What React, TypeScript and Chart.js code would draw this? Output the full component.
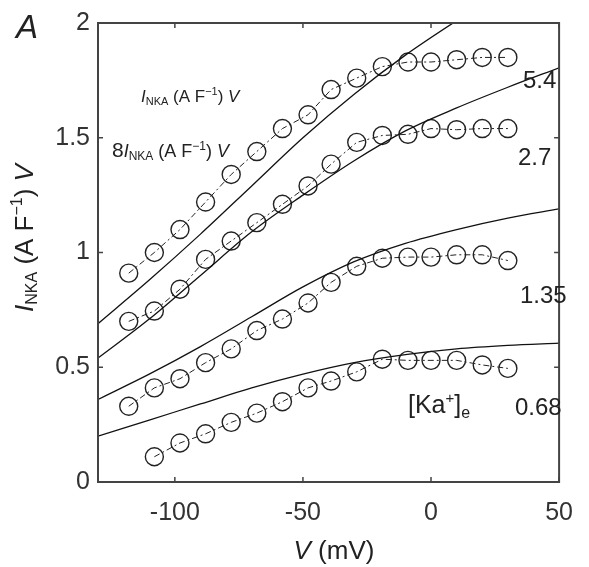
import React, { useEffect, useRef } from 'react';
import { Chart, registerables } from 'chart.js';

Chart.register(...registerables);

// Measured membrane potentials (mV)
const voltages = [-118, -108, -98, -88, -78, -68, -58, -48, -39, -29, -19, -9, 0, 10, 20, 30];
const voltagesLow = [-108, -98, -88, -78, -68, -58, -48, -39, -29, -19, -9, 0, 10, 20, 30];

// Measured I_NKA (A/F) for each [K+]e
const ik54 = [0.91, 1.0, 1.1, 1.22, 1.34, 1.44, 1.54, 1.6, 1.71, 1.76, 1.81, 1.83, 1.83, 1.84, 1.85, 1.85];
const ik27 = [0.7, 0.745, 0.84, 0.97, 1.05, 1.13, 1.21, 1.29, 1.385, 1.48, 1.51, 1.515, 1.54, 1.535, 1.54, 1.54];
const ik135 = [0.33, 0.41, 0.45, 0.52, 0.58, 0.66, 0.71, 0.78, 0.87, 0.94, 0.975, 0.98, 0.98, 0.99, 0.99, 0.965];
const ik068 = [0.11, 0.17, 0.21, 0.26, 0.3, 0.35, 0.41, 0.44, 0.48, 0.535, 0.53, 0.53, 0.53, 0.51, 0.495];

// Model curves
const fitV = [-130, -110, -90, -70, -50, -30, -10, 10, 30, 50];
const fit54 = [0.69, 0.88, 1.08, 1.29, 1.5, 1.69, 1.86, 2.01, 2.15, 2.28];
const fit27 = [0.54, 0.71, 0.9, 1.09, 1.25, 1.4, 1.53, 1.63, 1.72, 1.805];
const fit135 = [0.36, 0.47, 0.59, 0.72, 0.85, 0.96, 1.04, 1.1, 1.15, 1.19];
const fit068 = [0.2, 0.27, 0.34, 0.41, 0.47, 0.52, 0.555, 0.58, 0.595, 0.605];

const xTicks = [-100, -50, 0, 50];
const yTicks = [0, 0.5, 1, 1.5, 2];

const concLabels = ['5.4', '2.7', '1.35', '0.68'];

const FAM = '"Liberation Sans", Arial, Helvetica, sans-serif';
const INK = '#222';

type Part = { t: string; size: number; italic?: boolean; dy?: number };

function drawRich(ctx: CanvasRenderingContext2D, parts: Part[], x: number, y: number, align: 'left' | 'center' | 'right') {
  const fontOf = (p: Part) => `${p.italic ? 'italic ' : ''}${p.size}px ${FAM}`;
  let total = 0;
  const widths = parts.map((p) => {
    ctx.font = fontOf(p);
    const w = ctx.measureText(p.t).width;
    total += w;
    return w;
  });
  let cx = align === 'left' ? x : align === 'center' ? x - total / 2 : x - total;
  ctx.textAlign = 'left';
  ctx.textBaseline = 'alphabetic';
  parts.forEach((p, i) => {
    ctx.font = fontOf(p);
    ctx.fillText(p.t, cx, y + (p.dy || 0));
    cx += widths[i];
  });
}

const pts = (xs: number[], ys: number[]) => xs.map((x, i) => ({ x, y: ys[i] }));

const decorPlugin = {
  id: 'decor',
  afterDraw(chart: any) {
    const ctx: CanvasRenderingContext2D = chart.ctx;
    const { left, right, top, bottom } = chart.chartArea;
    const xs = chart.scales.x;
    const ys = chart.scales.y;
    ctx.save();
    // box
    ctx.strokeStyle = '#444';
    ctx.lineWidth = 2;
    ctx.strokeRect(left, top, right - left, bottom - top);
    // inward ticks
    ctx.lineWidth = 1.5;
    const tl = 5;
    ctx.beginPath();
    xTicks.forEach((v) => {
      const px = xs.getPixelForValue(v);
      ctx.moveTo(px, bottom);
      ctx.lineTo(px, bottom - tl);
      ctx.moveTo(px, top);
      ctx.lineTo(px, top + tl);
    });
    yTicks.forEach((v) => {
      const py = ys.getPixelForValue(v);
      ctx.moveTo(left, py);
      ctx.lineTo(left + tl, py);
      ctx.moveTo(right, py);
      ctx.lineTo(right - tl, py);
    });
    ctx.stroke();

    ctx.fillStyle = INK;
    // panel letter
    drawRich(ctx, [{ t: 'A', size: 33, italic: true }], 16, 38, 'left');

    // x axis title
    drawRich(ctx, [
      { t: 'V', size: 26, italic: true },
      { t: ' (mV)', size: 26 },
    ], 334, 559, 'center');

    // y axis title (rotated)
    ctx.save();
    ctx.translate(33, 238);
    ctx.rotate(-Math.PI / 2);
    drawRich(ctx, [
      { t: 'I', size: 26, italic: true },
      { t: 'NKA', size: 16, dy: 4 },
      { t: ' (A F', size: 26 },
      { t: '\u22121', size: 16, dy: -11 },
      { t: ') ', size: 26 },
      { t: 'V', size: 26, italic: true },
    ], 0, 0, 'center');
    ctx.restore();

    // inner annotation lines
    drawRich(ctx, [
      { t: 'I', size: 17, italic: true },
      { t: 'NKA', size: 11, dy: 3 },
      { t: ' (A F', size: 17 },
      { t: '\u22121', size: 11, dy: -7 },
      { t: ') ', size: 17 },
      { t: 'V', size: 17, italic: true },
    ], 141, 102, 'left');
    drawRich(ctx, [
      { t: '8', size: 21 },
      { t: 'I', size: 18, italic: true },
      { t: 'NKA', size: 12, dy: 3 },
      { t: ' (A F', size: 18 },
      { t: '\u22121', size: 12, dy: -7 },
      { t: ') ', size: 18 },
      { t: 'V', size: 18, italic: true },
    ], 112, 157, 'left');

    // concentration labels
    drawRich(ctx, [{ t: concLabels[0], size: 24 }], 523, 88, 'left');
    drawRich(ctx, [{ t: concLabels[1], size: 24 }], 518, 165, 'left');
    drawRich(ctx, [{ t: concLabels[2], size: 24 }], 520, 303, 'left');
    drawRich(ctx, [{ t: concLabels[3], size: 24 }], 515, 415, 'left');
    drawRich(ctx, [
      { t: '[Ka', size: 25 },
      { t: '+', size: 15, dy: -10 },
      { t: ']', size: 25 },
      { t: 'e', size: 16, dy: 5 },
    ], 408, 413, 'left');
    ctx.restore();
  },
};

export default function App() {
  const ref = useRef<HTMLCanvasElement | null>(null);

  useEffect(() => {
    document.body.style.margin = '0';
    const canvas = ref.current;
    if (!canvas) return;

    const fitStyle = {
      type: 'line' as const,
      borderColor: '#111',
      borderWidth: 1.3,
      pointRadius: 0,
      fill: false,
      tension: 0.4,
      cubicInterpolationMode: 'monotone' as const,
    };
    const dataStyle = {
      type: 'line' as const,
      borderColor: '#222',
      borderWidth: 1,
      borderDash: [6, 3, 2, 3],
      pointRadius: 9,
      pointBorderWidth: 1.4,
      pointBorderColor: '#222',
      pointBackgroundColor: 'rgba(0,0,0,0)',
      fill: false,
      tension: 0,
    };

    const chart = new Chart(canvas, {
      type: 'line',
      data: {
        datasets: [
          { ...fitStyle, label: 'fit 5.4', data: pts(fitV, fit54) },
          { ...fitStyle, label: 'fit 2.7', data: pts(fitV, fit27) },
          { ...fitStyle, label: 'fit 1.35', data: pts(fitV, fit135) },
          { ...fitStyle, label: 'fit 0.68', data: pts(fitV, fit068) },
          { ...dataStyle, label: '5.4', data: pts(voltages, ik54) },
          { ...dataStyle, label: '2.7', data: pts(voltages, ik27) },
          { ...dataStyle, label: '1.35', data: pts(voltages, ik135) },
          { ...dataStyle, label: '0.68', data: pts(voltagesLow, ik068) },
        ],
      },
      options: {
        animation: false,
        responsive: false,
        devicePixelRatio: 1,
        layout: { padding: { top: 20, right: 17, left: 0, bottom: 0 } },
        plugins: {
          legend: { display: false },
          tooltip: { enabled: false },
        },
        scales: {
          x: {
            type: 'linear',
            min: -130,
            max: 50,
            grid: { display: false, drawTicks: false },
            border: { display: false },
            ticks: {
              color: '#333',
              font: { family: FAM, size: 25 },
              padding: 16,
              callback: (v: any) => String(v),
            },
            afterBuildTicks: (s: any) => {
              s.ticks = xTicks.map((v) => ({ value: v }));
            },
            afterFit: (s: any) => {
              s.height = 85;
            },
          },
          y: {
            type: 'linear',
            min: 0,
            max: 2,
            grid: { display: false, drawTicks: false },
            border: { display: false },
            ticks: {
              color: '#333',
              font: { family: FAM, size: 25 },
              padding: 8,
              callback: (v: any) => String(v),
            },
            afterBuildTicks: (s: any) => {
              s.ticks = yTicks.map((v) => ({ value: v }));
            },
            afterFit: (s: any) => {
              s.width = 98;
            },
          },
        },
      },
      plugins: [decorPlugin],
    });

    return () => chart.destroy();
  }, []);

  return (
    <div>
      <canvas ref={ref} width={589} height={567} style={{ display: 'block' }} />
    </div>
  );
}
